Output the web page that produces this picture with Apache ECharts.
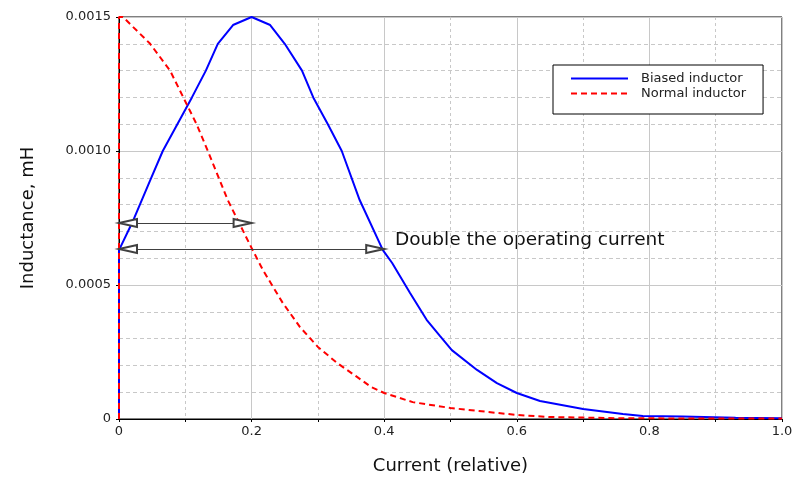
<!DOCTYPE html>
<html>
<head>
<meta charset="utf-8">
<script src="https://cdn.jsdelivr.net/npm/echarts@6/dist/echarts.min.js"></script>
<style>
  html, body { margin: 0; padding: 0; background: #fff; }
  #chart { width: 795px; height: 477px; }
</style>
</head>
<body>
<div id="chart"></div>
<script>
// [current (relative), inductance mH]
const biased = [
  [0, 0], [0, 0.00063], [0.02, 0.000733], [0.047, 0.00089], [0.066, 0.001],
  [0.088, 0.0011], [0.11, 0.0012], [0.131, 0.0013], [0.149, 0.0014], [0.172, 0.00147],
  [0.2, 0.0015], [0.228, 0.00147], [0.25, 0.0014], [0.276, 0.0013], [0.293, 0.0012],
  [0.315, 0.0011], [0.336, 0.001], [0.363, 0.000817], [0.398, 0.00063], [0.412, 0.000582],
  [0.439, 0.00047], [0.464, 0.00037], [0.484, 0.00031], [0.502, 0.000257], [0.54, 0.000183],
  [0.57, 0.000134], [0.6, 0.000097], [0.635, 0.000067], [0.7, 0.000037], [0.76, 0.000019],
  [0.79, 0.000011], [0.85, 0.000009], [0.93, 0.000005], [1.0, 0.000003]
];
const normal = [
  [0, 0], [0, 0.0015], [0.006, 0.0015], [0.047, 0.0014], [0.077, 0.0013],
  [0.097, 0.0012], [0.117, 0.0011], [0.134, 0.001], [0.164, 0.000817], [0.2, 0.000638],
  [0.217, 0.000556], [0.247, 0.000433], [0.273, 0.000343], [0.3, 0.000269], [0.329, 0.000209],
  [0.359, 0.000157], [0.38, 0.00012], [0.4, 0.000097], [0.443, 0.000063], [0.5, 0.000041],
  [0.6, 0.000015], [0.65, 0.0000075], [0.75, 0.000003], [0.85, 0.000002], [1.0, 0.000002]
];
const seriesNames = ['Biased inductor', 'Normal inductor'];
const xTickLabels = ['0', '0.2', '0.4', '0.6', '0.8', '1.0'];
const yTickLabels = ['0', '0.0005', '0.0010', '0.0015'];
// double arrows: [start, end] in data coords
const arrowShort = [[0, 0.000731], [0.2, 0.000731]];
const arrowLong = [[0, 0.000634], [0.4, 0.000634]];
const noteText = 'Double the operating current';

const font = 'DejaVu Sans';
const chart = echarts.init(document.getElementById('chart'));

const option = {
  animation: false,
  backgroundColor: '#fff',
  grid: {
    left: 119, right: 13, top: 17, bottom: 58,
    outerBoundsMode: 'none',
    show: true, borderColor: '#000', borderWidth: 1, backgroundColor: '#fff'
  },
  legend: {
    data: seriesNames,
    orient: 'vertical',
    left: 553, top: 65,
    itemWidth: 57, itemHeight: 14, itemGap: 2,
    padding: [7, 17, 14, 17],
    borderColor: '#000', borderWidth: 1,
    backgroundColor: '#fff',
    itemStyle: { opacity: 0 },
    textStyle: { fontFamily: font, fontSize: 13, color: '#222', padding: [0, 0, 0, 8] }
  },
  xAxis: {
    type: 'value',
    min: 0, max: 1, interval: 0.2,
    name: 'Current (relative)',
    nameLocation: 'middle', nameGap: 38,
    nameTextStyle: { fontFamily: font, fontSize: 18, color: '#111' },
    axisLine: { show: true, lineStyle: { color: '#000' } },
    axisTick: { show: true, length: 3, lineStyle: { color: '#000' } },
    minorTick: { show: true, splitNumber: 2, length: 3, lineStyle: { color: '#000' } },
    axisLabel: {
      margin: 6, fontFamily: font, fontSize: 13, color: '#222',
      formatter: v => xTickLabels[Math.round(v / 0.2)]
    },
    splitLine: { show: true, lineStyle: { color: '#c8c8c8', width: 1 } },
    minorSplitLine: { show: true, lineStyle: { color: '#c8c8c8', type: [3, 3] } }
  },
  yAxis: {
    type: 'value',
    min: 0, max: 0.0015, interval: 0.0005,
    name: 'Inductance, mH',
    nameLocation: 'middle', nameGap: 82,
    nameTextStyle: { fontFamily: font, fontSize: 18, color: '#111' },
    axisLine: { show: true, lineStyle: { color: '#000' } },
    axisTick: { show: true, length: 3, lineStyle: { color: '#000' } },
    minorTick: { show: false, splitNumber: 5 },
    axisLabel: {
      margin: 8, fontFamily: font, fontSize: 13, color: '#222',
      formatter: v => yTickLabels[Math.round(v / 0.0005)]
    },
    splitLine: { show: true, lineStyle: { color: '#c8c8c8', width: 1 } },
    minorSplitLine: { show: true, lineStyle: { color: '#c8c8c8', type: [4, 3] } }
  },
  series: [
    {
      name: seriesNames[0],
      type: 'line',
      data: biased,
      symbol: 'none',
      lineStyle: { color: '#0000ff', width: 2 },
      itemStyle: { color: '#0000ff' },
      z: 3
    },
    {
      name: seriesNames[1],
      type: 'line',
      data: normal,
      symbol: 'none',
      lineStyle: { color: '#ff0000', width: 2, type: [6, 4] },
      itemStyle: { color: '#ff0000' },
      z: 4
    },
    {
      name: 'arrows',
      type: 'line',
      data: [],
      z: 5,
      markLine: {
        silent: true,
        symbol: ['emptyTriangle', 'emptyTriangle'],
        symbolSize: [8, 18],
        symbolOffset: [[0, 9], [0, 9]],
        label: { show: false },
        lineStyle: { color: '#404040', width: 1, type: 'solid' },
        emphasis: { disabled: true },
        data: [
          [{ coord: arrowShort[0] }, { coord: arrowShort[1] }],
          [{ coord: arrowLong[0] }, { coord: arrowLong[1] }]
        ]
      }
    }
  ],
  graphic: [
    {
      type: 'text',
      left: 395, top: 231,
      style: { text: noteText, font: '18.5px "DejaVu Sans"', fill: '#111' }
    }
  ]
};

chart.setOption(option);
</script>
</body>
</html>
